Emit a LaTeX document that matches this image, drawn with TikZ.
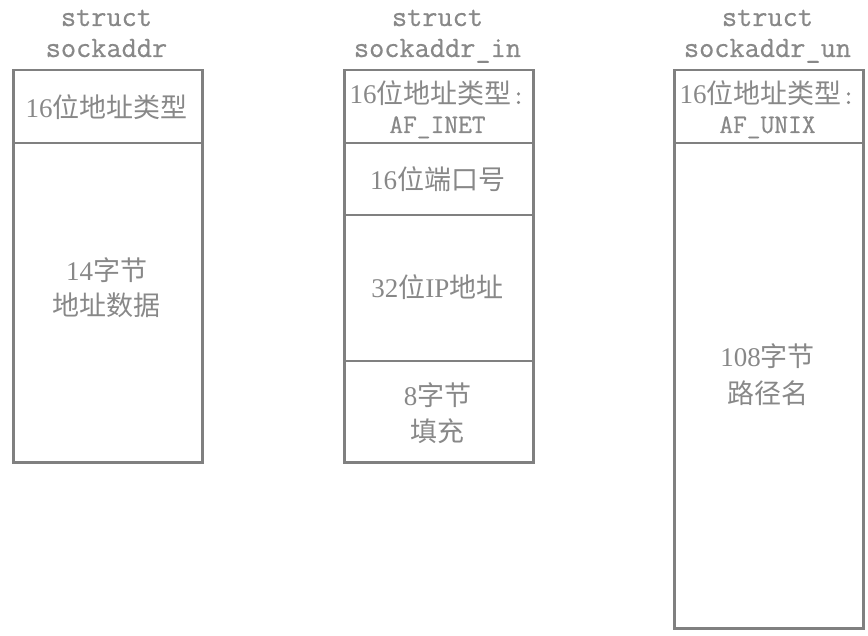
\documentclass[tikz,border=0pt]{standalone}
\usepackage{fontspec}
\setmainfont{Liberation Serif}
\newfontfamily\cjk{Noto Sans CJK SC}
\newfontfamily\mymono[FakeBold=0.6]{Latin Modern Mono}
\definecolor{ln}{RGB}{128,128,128}
\definecolor{tx}{RGB}{136,136,136}
\newcommand\cj[1]{{\cjk #1}}
\newcommand\tw[1]{{\mymono #1}}
\begin{document}
\begin{tikzpicture}[x=1pt,y=-1pt,
  cell/.style={draw=ln,line width=2.5pt,minimum width=189pt,inner sep=0pt,anchor=north west},
  lbl/.style={text=tx,font=\fontsize{27}{36}\selectfont,inner sep=0pt,anchor=base},
  mono/.style={text=tx,font=\fontsize{26.7}{30}\selectfont\mymono,inner sep=0pt,anchor=base},
  ttl/.style={text=tx,font=\fontsize{29.5}{30}\selectfont\mymono,inner sep=0pt,anchor=base}]
\useasboundingbox (0,0) rectangle (868,636);
% box 1
\node[cell,minimum height=73pt]  (a1) at (12,69) {};
\node[cell,minimum height=319pt] (b1) at (12,142) {};
% box 2
\node[cell,minimum height=73pt]  (a2) at (343,69) {};
\node[cell,minimum height=72pt]  (b2) at (343,142) {};
\node[cell,minimum height=146pt] (c2) at (343,214) {};
\node[cell,minimum height=101pt] (d2) at (343,360) {};
% box 3
\node[cell,minimum height=73pt]  (a3) at (673,69) {};
\node[cell,minimum height=485pt] (b3) at (673,142) {};
% titles
\node[ttl] (t1a) at (106.5,26) {struct};
\node[ttl] (t1b) at (106.5,57) {sockaddr};
\node[ttl] (t2a) at (437.5,26) {struct};
\node[ttl] (t2b) at (437.5,57) {sockaddr\_in};
\node[ttl] (t3a) at (767.5,26) {struct};
\node[ttl] (t3b) at (767.5,57) {sockaddr\_un};
% box 1 labels
\node[lbl] (l1a) at (106.5,118) {16\cj{位地址类型}};
\node[lbl] (l1b) at (106.5,281) {14\cj{字节}};
\node[lbl] (l1c) at (106.5,316) {\cj{地址数据}};
% box 2 labels
\node[lbl] (l2a) at (437.5,104) {16\cj{位地址类型}\tw{:}};
\node[mono] (l2b) at (437.5,133) {AF\_INET};
\node[lbl] (l2c) at (437.5,190) {16\cj{位端口号}};
\node[lbl] (l2d) at (437.5,298) {32\cj{位}IP\cj{地址}};
\node[lbl] (l2e) at (437.5,406) {8\cj{字节}};
\node[lbl] (l2f) at (437.5,442) {\cj{填充}};
% box 3 labels
\node[lbl] (l3a) at (767.5,104) {16\cj{位地址类型}\tw{:}};
\node[mono] (l3b) at (767.5,133) {AF\_UNIX};
\node[lbl] (l3c) at (767.5,367) {108\cj{字节}};
\node[lbl] (l3d) at (767.5,403) {\cj{路径名}};
\end{tikzpicture}
\end{document}
